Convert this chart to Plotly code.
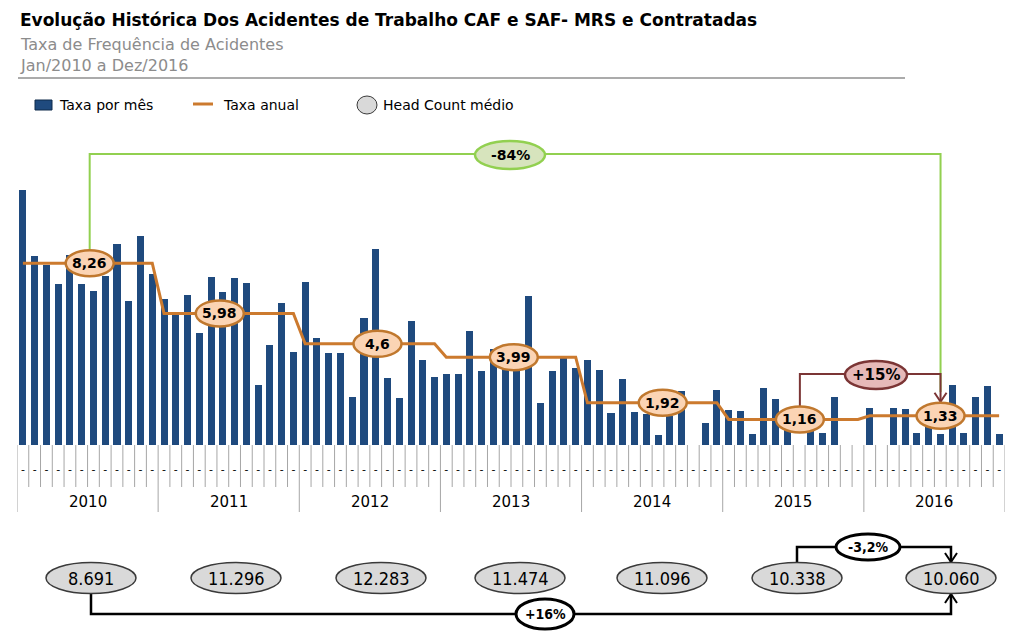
import plotly.graph_objects as go

# ---------------- data ----------------
years = ["2010", "2011", "2012", "2013", "2014", "2015", "2016"]
monthly_rate = [
    11.59, 8.59, 8.18, 7.32, 8.64, 7.32, 6.98, 7.68, 9.12, 6.53, 9.48, 7.77,
    6.62, 5.91, 6.83, 5.11, 7.65, 6.95, 7.61, 7.36, 2.73, 4.53, 6.45, 4.24,
    7.39, 4.85, 4.20, 4.17, 2.20, 5.76, 8.91, 3.06, 2.15, 5.64, 3.88, 3.09,
    3.23, 3.23, 5.18, 3.35, 4.35, 3.80, 3.70, 6.77, 1.91, 3.38, 3.94, 3.48,
    3.86, 3.41, 1.44, 3.00, 1.48, 1.40, 0.45, 1.30, 2.47, 0.00, 0.98, 2.50,
    1.59, 1.55, 0.50, 2.60, 2.10, 0.80, 0.00, 0.68, 0.55, 2.18, 0.00, 0.00,
    1.67, 0.00, 1.67, 1.64, 0.55, 1.00, 0.50, 2.73, 0.56, 2.20, 2.68, 0.50,
]
annual_rate = [8.26, 5.98, 4.6, 3.99, 1.92, 1.16, 1.33]
annual_text = ["8,26", "5,98", "4,6", "3,99", "1,92", "1,16", "1,33"]
head_count = ["8.691", "11.296", "12.283", "11.474", "11.096", "10.338", "10.060"]
var_total_rate = "-84%"
var_last_rate = "+15%"
var_total_hc = "+16%"
var_last_hc = "-3,2%"

# ---------------- layout helpers ----------------
W, H = 1024, 633
L, R, T, B = 17, 19, 135, 188
PW, PH = W - L - R, H - T - B
PX_PER_UNIT = 22.0
YMAX = PH / PX_PER_UNIT
N = len(monthly_rate)
MW = PW / N  # pixels per month


def px(x):
    return (x - L) / PW


def py(y):
    return (H - B - y) / PH


def mx(m):  # month coordinate -> pixel x
    return L + m * MW


BLUE = "#1F4A7E"
ORANGE = "#CC7A2E"
GREEN = "#92D050"
MAROON = "#7B3535"
GRID = "#A6A6A6"
FONT = "DejaVu Sans"

xs = [i + 0.5 for i in range(N)]
line_y = [annual_rate[i // 12] for i in range(N)]

fig = go.Figure()
fig.add_trace(go.Bar(x=xs, y=monthly_rate, width=0.6, marker_color=BLUE,
                     marker_line_width=0, name="Taxa por mês", showlegend=False))
fig.add_trace(go.Scatter(x=xs, y=line_y, mode="lines", line=dict(color=ORANGE, width=3),
                         name="Taxa anual", showlegend=False))

shapes = []
ann = []

# category cells
for i in range(N + 1):
    yb = 512 if i % 12 == 0 else 487
    shapes.append(dict(type="line", xref="x", yref="paper", x0=i, x1=i, y0=0, y1=py(yb),
                       line=dict(color=GRID, width=1), layer="below"))
for k, yr in enumerate(years):
    ann.append(dict(xref="x", yref="paper", x=12 * k + 6, y=py(502), text=yr, showarrow=False,
                    font=dict(family=FONT, size=15, color="#000000"), xanchor="center", yanchor="middle"))


def seg_path(points):
    return "M " + " L ".join(f"{px(a):.5f},{py(b):.5f}" for a, b in points)


def vhead(xt, yt, up=False, color="#000", width=2):
    d = 9 if not up else -9
    return dict(type="path", xref="paper", yref="paper",
                path=seg_path([(xt - 6, yt - d), (xt, yt), (xt + 6, yt - d)]),
                line=dict(color=color, width=width))


def ellipse(cx, cy, w, h, fill, lc, lw):
    return dict(type="circle", xref="paper", yref="paper",
                x0=px(cx - w / 2), x1=px(cx + w / 2), y0=py(cy + h / 2), y1=py(cy - h / 2),
                fillcolor=fill, line=dict(color=lc, width=lw))


def text(cx, cy, s, size=13, bold=True, family=FONT, color="#000"):
    return dict(xref="paper", yref="paper", x=px(cx), y=py(cy), text=f"<b>{s}</b>" if bold else s,
                showarrow=False, font=dict(family=family, size=size, color=color),
                xanchor="center", yanchor="middle")


# annual label positions (months)
lab_m = [6.18, 17.24, 30.65, 42.24, 54.9, 66.56, 78.52]
lab_px = [mx(m) for m in lab_m]
lab_py = [H - B - v * PX_PER_UNIT for v in annual_rate]

# green bracket (-84%)
gx0, gx1, gy = lab_px[0], lab_px[6], 154
shapes.append(dict(type="path", xref="paper", yref="paper",
                   path=seg_path([(gx0, lab_py[0] - 12), (gx0, gy), (gx1, gy), (gx1, 392)]),
                   line=dict(color=GREEN, width=2)))
# maroon bracket (+15%)
mx0, my = lab_px[5], 374
shapes.append(dict(type="path", xref="paper", yref="paper",
                   path=seg_path([(mx0, lab_py[5] - 12), (mx0, my), (gx1, my), (gx1, lab_py[6] - 14)]),
                   line=dict(color=MAROON, width=2)))
shapes.append(vhead(gx1, lab_py[6] - 14, color=MAROON, width=2))
shapes.append(ellipse(510, 155, 70, 28, "#D7E4BD", GREEN, 2.5))
ann.append(text(510, 155, var_total_rate, 14))
shapes.append(ellipse(876, 375, 62, 28, "#E6B9B8", MAROON, 2.5))
ann.append(text(876, 375, var_last_rate, 15))

# annual labels
for x, y, s in zip(lab_px, lab_py, annual_text):
    shapes.append(ellipse(x, y, 48, 26, "#FBD4B4", "#C0782E", 2.5))
    ann.append(text(x, y, s, 14))

# head count row
hc_x = [91, 236, 381, 520, 662, 797, 951]
hc_y = 578
shapes.append(dict(type="path", xref="paper", yref="paper",
                   path=seg_path([(hc_x[0], hc_y + 15), (hc_x[0], 614), (hc_x[6], 614), (hc_x[6], hc_y + 16)]),
                   line=dict(color="#000", width=2.5)))
shapes.append(vhead(hc_x[6], hc_y + 16, up=True, color="#000", width=2))
shapes.append(dict(type="path", xref="paper", yref="paper",
                   path=seg_path([(hc_x[5], hc_y - 15), (hc_x[5], 547), (hc_x[6], 547), (hc_x[6], hc_y - 16)]),
                   line=dict(color="#000", width=2.5)))
shapes.append(vhead(hc_x[6], hc_y - 16, color="#000", width=2))
NARROW = "Liberation Sans Narrow, DejaVu Sans Condensed, Arial Narrow"
for x, s in zip(hc_x, head_count):
    shapes.append(ellipse(x, hc_y, 90, 31, "#D9D9D9", "#3A3A3A", 1.5))
    ann.append(text(x, hc_y, s, 18, bold=False, family=NARROW))
shapes.append(ellipse(545, 614, 58, 30, "#FFFFFF", "#000", 3))
ann.append(text(545, 614, var_total_hc, 14, bold=True, family=NARROW))
shapes.append(ellipse(868, 547, 64, 26, "#FFFFFF", "#000", 3))
ann.append(text(868, 547, var_last_hc, 14, bold=True, family=NARROW))

# title block
ann.append(dict(xref="paper", yref="paper", x=px(18), y=py(20), xanchor="left", yanchor="middle",
                text="<b>Evolução Histórica Dos Acidentes de Trabalho CAF e SAF- MRS e Contratadas</b>",
                showarrow=False, font=dict(family=FONT, size=17, color="#000")))
ann.append(dict(xref="paper", yref="paper", x=px(18), y=py(44), xanchor="left", yanchor="middle",
                text="Taxa de Frequência de Acidentes", showarrow=False,
                font=dict(family=FONT, size=16, color="#8C8C8C")))
ann.append(dict(xref="paper", yref="paper", x=px(18), y=py(66), xanchor="left", yanchor="middle",
                text="Jan/2010 a Dez/2016", showarrow=False,
                font=dict(family=FONT, size=16, color="#8C8C8C")))
shapes.append(dict(type="line", xref="paper", yref="paper", x0=px(18), x1=px(905), y0=py(78), y1=py(78),
                   line=dict(color="#595959", width=1.2)))

# legend
shapes.append(dict(type="rect", xref="paper", yref="paper", x0=px(35), x1=px(52), y0=py(110), y1=py(100),
                   fillcolor=BLUE, line=dict(color="#0F2A4A", width=1)))
ann.append(dict(xref="paper", yref="paper", x=px(57), y=py(105), xanchor="left", yanchor="middle",
                text="Taxa por mês", showarrow=False, font=dict(family=FONT, size=14, color="#000")))
shapes.append(dict(type="line", xref="paper", yref="paper", x0=px(193), x1=px(213), y0=py(104), y1=py(104),
                   line=dict(color=ORANGE, width=3)))
ann.append(dict(xref="paper", yref="paper", x=px(221), y=py(105), xanchor="left", yanchor="middle",
                text="Taxa anual", showarrow=False, font=dict(family=FONT, size=14, color="#000")))
shapes.append(ellipse(367, 105, 20, 18, "#D9D9D9", "#3A3A3A", 1))
ann.append(dict(xref="paper", yref="paper", x=px(381), y=py(105), xanchor="left", yanchor="middle",
                text="Head Count médio", showarrow=False, font=dict(family=FONT, size=14, color="#000")))

fig.update_layout(
    width=W, height=H, margin=dict(l=L, r=R, t=T, b=B),
    paper_bgcolor="white", plot_bgcolor="white", showlegend=False,
    bargap=0, shapes=shapes, annotations=ann,
    xaxis=dict(range=[0, N], tickvals=xs, ticktext=["-"] * N, ticks="outside", ticklen=14,
               tickcolor="rgba(0,0,0,0)", tickfont=dict(family=FONT, size=11, color="#000"),
               showgrid=False, zeroline=False, showline=False, fixedrange=True),
    yaxis=dict(range=[0, YMAX], visible=False, showgrid=False, zeroline=False, fixedrange=True),
)

fig.write_html("out.html", config={"displayModeBar": False},
               post_script="document.body.style.margin='0';document.body.style.overflow='hidden';")
